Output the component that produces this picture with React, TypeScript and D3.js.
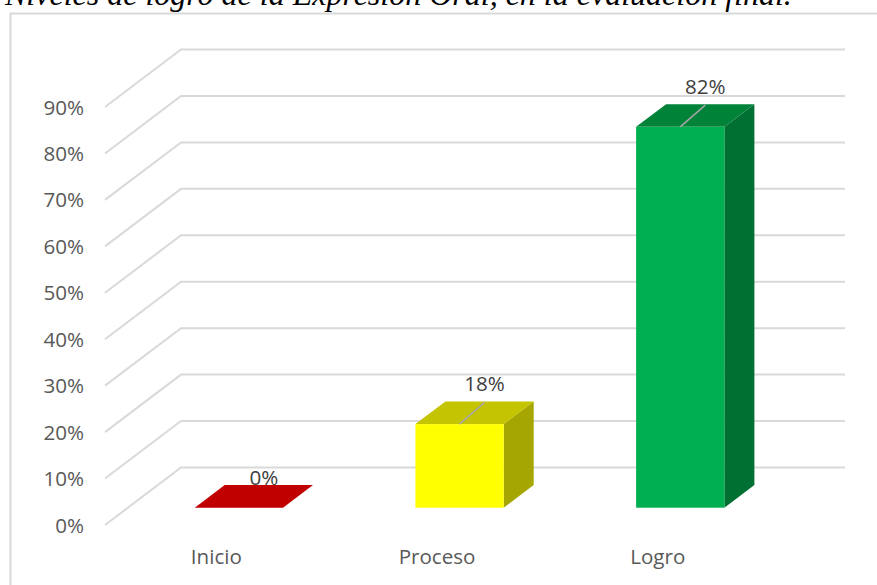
import React from "react";
import * as d3 from "d3";

const categories = ["Inicio", "Proceso", "Logro"];
const values = [0, 18, 82];
const valueLabels = ["0%", "18%", "82%"];
const frontColors = ["#c00000", "#ffff00", "#00b050"];
const topColors = ["#c00000", "#c4c400", "#008238"];
const sideColors = ["#900000", "#a6a600", "#007032"];
const ticks = [0, 10, 20, 30, 40, 50, 60, 70, 80, 90];
const title = "Niveles de logro de la Expresión Oral, en la evaluación final.";

const W = 877;
const H = 585;
const y = d3.scaleLinear().domain([0, 90]).range([525, 107]);
const x = d3.scaleBand<string>().domain(categories).range([128.5, 790.6]).paddingInner(0.6).paddingOuter(0.3);
const labelFont = "'Open Sans', sans-serif";

export default function App() {
  const line = d3.line();
  const grid = (v: number) =>
    line([[105, y(v)], [181, y(v) - 57.5], [845, y(v) - 57.5]]) as string;
  const bw = x.bandwidth();
  const baseDy = -17.3;
  const dx = 30;
  const dy = -22.7;
  return (
    <svg
      width={W}
      height={H}
      style={{ position: "fixed", left: 0, top: 0, background: "#fff" }}
    >
      <text x={5} y={5} fontFamily="'Liberation Serif', serif" fontStyle="italic" fontSize={32} fill="#000">
        {title}
      </text>
      <path d={`M${W + 2},13.5H10.5V${H + 2}`} fill="none" stroke="#d9d9d9" strokeWidth={2} />
      {ticks.map((t) => (
        <g key={t}>
          <path d={grid(t)} fill="none" stroke="#d9d9d9" strokeWidth={2} />
          <text x={84} y={y(t) + 7.5} textAnchor="end" fontFamily={labelFont} fontSize={20.6} fill="#595959">
            {t}%
          </text>
        </g>
      ))}
      {categories.map((c, i) => {
        const x0 = x(c)!;
        const x1 = x0 + bw;
        const yb = y(0) + baseDy;
        const yt = y(values[i]) + baseDy;
        const cx = x0 + bw / 2;
        return (
          <g key={c}>
            <path d={line([[x1, yt], [x1 + dx, yt + dy], [x1 + dx, yb + dy], [x1, yb]]) as string} fill={sideColors[i]} />
            <path d={line([[x0, yt], [x0 + dx, yt + dy], [x1 + dx, yt + dy], [x1, yt]]) as string} fill={topColors[i]} />
            <rect x={x0} y={yt} width={bw} height={yb - yt} fill={frontColors[i]} />
            {values[i] > 0 && (
              <path d={line([[cx, yt], [cx + 25, yt + dy + 1]]) as string} stroke="#a6a6a6" strokeWidth={1.5} fill="none" />
            )}
            <text x={cx + 25} y={yt + dy - (values[i] > 0 ? 10 : 0)} textAnchor="middle" fontFamily={labelFont} fontSize={20.6} fill="#404040">
              {valueLabels[i]}
            </text>
            <text x={cx - 22.5} y={564} textAnchor="middle" fontFamily={labelFont} fontSize={20.6} fill="#595959">
              {c}
            </text>
          </g>
        );
      })}
    </svg>
  );
}
